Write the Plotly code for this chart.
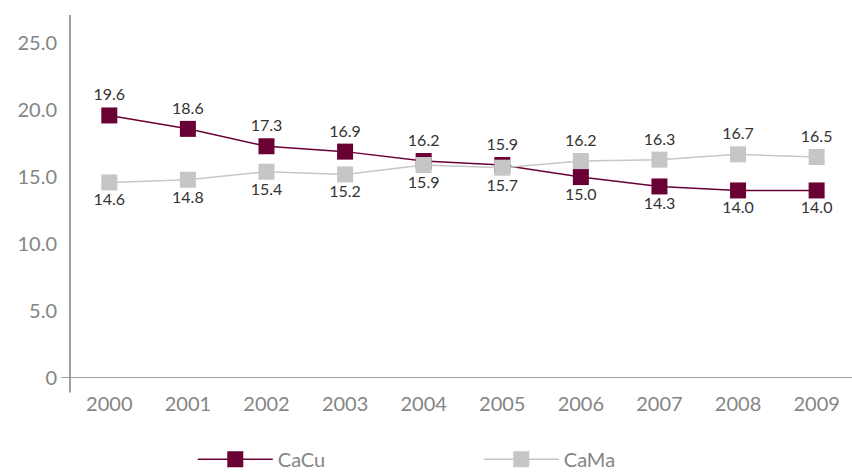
import plotly.graph_objects as go

years = ["2000", "2001", "2002", "2003", "2004", "2005", "2006", "2007", "2008", "2009"]
cacu = [19.6, 18.6, 17.3, 16.9, 16.2, 15.9, 15.0, 14.3, 14.0, 14.0]
cama = [14.6, 14.8, 15.4, 15.2, 15.9, 15.7, 16.2, 16.3, 16.7, 16.5]
cacu_pos = ["top center"] * 6 + ["bottom center"] * 4
cama_pos = ["bottom center"] * 6 + ["top center"] * 4

FONT = "Lato, 'DejaVu Sans', sans-serif"
MAROON = "#6a0135"
GREY = "#c6c6c8"

fig = go.Figure()
fig.add_trace(go.Scatter(
    x=years, y=cacu, name="CaCu", mode="lines+markers+text",
    line=dict(color=MAROON, width=1.5),
    marker=dict(symbol="square", size=16, color=MAROON),
    text=[f"{v:.1f}" for v in cacu], textposition=cacu_pos,
    textfont=dict(family=FONT, size=16, color="#333333"),
    cliponaxis=False,
))
fig.add_trace(go.Scatter(
    x=years, y=cama, name="CaMa", mode="lines+markers+text",
    line=dict(color=GREY, width=1.5),
    marker=dict(symbol="square", size=16, color=GREY),
    text=[f"{v:.1f}" for v in cama], textposition=cama_pos,
    textfont=dict(family=FONT, size=16, color="#333333"),
    cliponaxis=False,
))

fig.update_layout(
    width=852, height=473,
    margin=dict(l=70, r=0, t=15, b=95, autoexpand=False),
    paper_bgcolor="white", plot_bgcolor="white",
    font=dict(family=FONT, color="#858585", size=20),
    showlegend=True,
    legend=dict(orientation="h", x=0.157, xanchor="left", y=-0.17, yanchor="top",
                traceorder="normal", entrywidth=196, entrywidthmode="pixels",
                itemwidth=75,
                font=dict(size=20, color="#858585"), bgcolor="rgba(0,0,0,0)"),
    xaxis=dict(type="category", range=[-0.5, 9.45], showgrid=False, zeroline=False,
               showline=False, ticks="", automargin=False, ticklabelstandoff=12,
               tickfont=dict(size=20, color="#858585")),
    yaxis=dict(range=[0, 27.1], tickvals=[0, 5, 10, 15, 20, 25],
               ticktext=["0", "5.0", "10.0", "15.0", "20.0", "25.0"],
               showgrid=False, zeroline=False, showline=False, ticks="",
               ticklabelstandoff=12, automargin=False,
               tickfont=dict(size=20, color="#858585")),
    shapes=[
        dict(type="line", xref="paper", yref="paper", x0=0, x1=0, y0=1, y1=-0.04,
             line=dict(color="#808080", width=1.5)),
        dict(type="line", xref="paper", yref="y", x0=-0.011, x1=1, y0=0, y1=0,
             line=dict(color="#808080", width=1.5)),
    ],
)

fig.write_html("out.html", config={"displayModeBar": False},
               post_script="document.body.style.margin='0';")
